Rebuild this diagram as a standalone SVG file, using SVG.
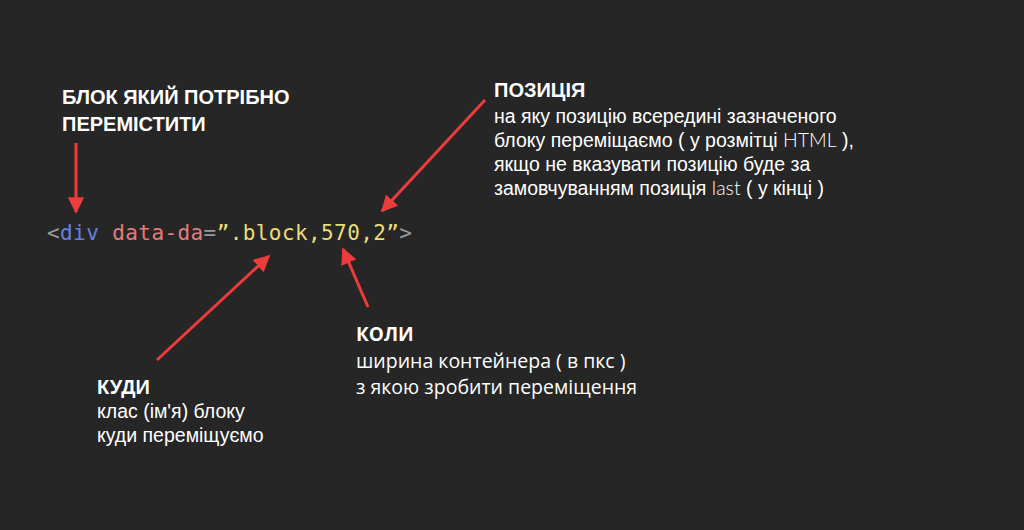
<svg xmlns="http://www.w3.org/2000/svg" width="1024" height="530" viewBox="0 0 1024 530">
<defs>
<style>
.h{font-family:"Liberation Sans",Arial,sans-serif;font-weight:bold;font-size:20px;fill:#ffffff}
.b{font-family:"Liberation Sans",Arial,sans-serif;font-size:19.5px;fill:#ffffff}
.c{font-family:"Open Sans","Noto Sans",sans-serif;fill:#ffffff}
.thin{font-family:"Lato","Roboto",sans-serif;font-weight:300}
.code{font-family:"DejaVu Sans Mono",monospace;font-size:21px}
.arr{stroke:#ee3b3b;stroke-width:3;fill:none}
</style>
<marker id="ah" viewBox="0 0 10 10" refX="9" refY="5" markerWidth="5.5" markerHeight="5.5" markerUnits="strokeWidth" orient="auto">
<path d="M0,0 L10,5 L0,10 z" fill="#ee3b3b"/>
</marker>
</defs>
<rect width="1024" height="530" fill="#262626"/>

<g id="code">
<text class="code" x="47" y="240" textLength="365" lengthAdjust="spacing"><tspan fill="#9a9a9a">&lt;</tspan><tspan fill="#6680e0">div</tspan><tspan> </tspan><tspan fill="#e27d7d">data-da</tspan><tspan fill="#9a9a9a">=</tspan><tspan fill="#e9dc7c">”.block,570,2”</tspan><tspan fill="#9a9a9a">&gt;</tspan></text>
</g>

<g id="block-label">
<text class="h" x="62" y="104">БЛОК ЯКИЙ ПОТРІБНО</text>
<text class="h" x="62" y="131">ПЕРЕМІСТИТИ</text>
</g>

<g id="position-label">
<text class="h" x="494" y="97">ПОЗИЦІЯ</text>
<text class="b" x="494" y="123">на яку позицію всередині зазначеного</text>
<text class="b" x="494" y="147">блоку переміщаємо ( у розмітці <tspan class="thin">HTML</tspan> ),</text>
<text class="b" x="494" y="171">якщо не вказувати позицію буде за</text>
<text class="b" x="494" y="195">замовчуванням позиція <tspan class="thin">last</tspan> ( у кінці )</text>
</g>

<g id="where-label">
<text class="h" x="97" y="394">КУДИ</text>
<text class="b" x="97" y="418">клас (ім'я) блоку</text>
<text class="b" x="97" y="442">куди переміщуємо</text>
</g>

<g id="when-label">
<text class="c" x="356" y="341" font-size="19" font-weight="bold">КОЛИ</text>
<text class="c" x="356" y="368" font-size="19.5">ширина контейнера ( в пкс )</text>
<text class="c" x="356" y="394" font-size="19.5">з якою зробити переміщення</text>
</g>

<g id="connectors">
<line class="arr" x1="76" y1="143" x2="76" y2="212" marker-end="url(#ah)"/>
<line class="arr" x1="485" y1="100" x2="382" y2="211" marker-end="url(#ah)"/>
<line class="arr" x1="157" y1="360" x2="269" y2="256" marker-end="url(#ah)"/>
<line class="arr" x1="368" y1="307" x2="343" y2="249" marker-end="url(#ah)"/>
</g>
</svg>
